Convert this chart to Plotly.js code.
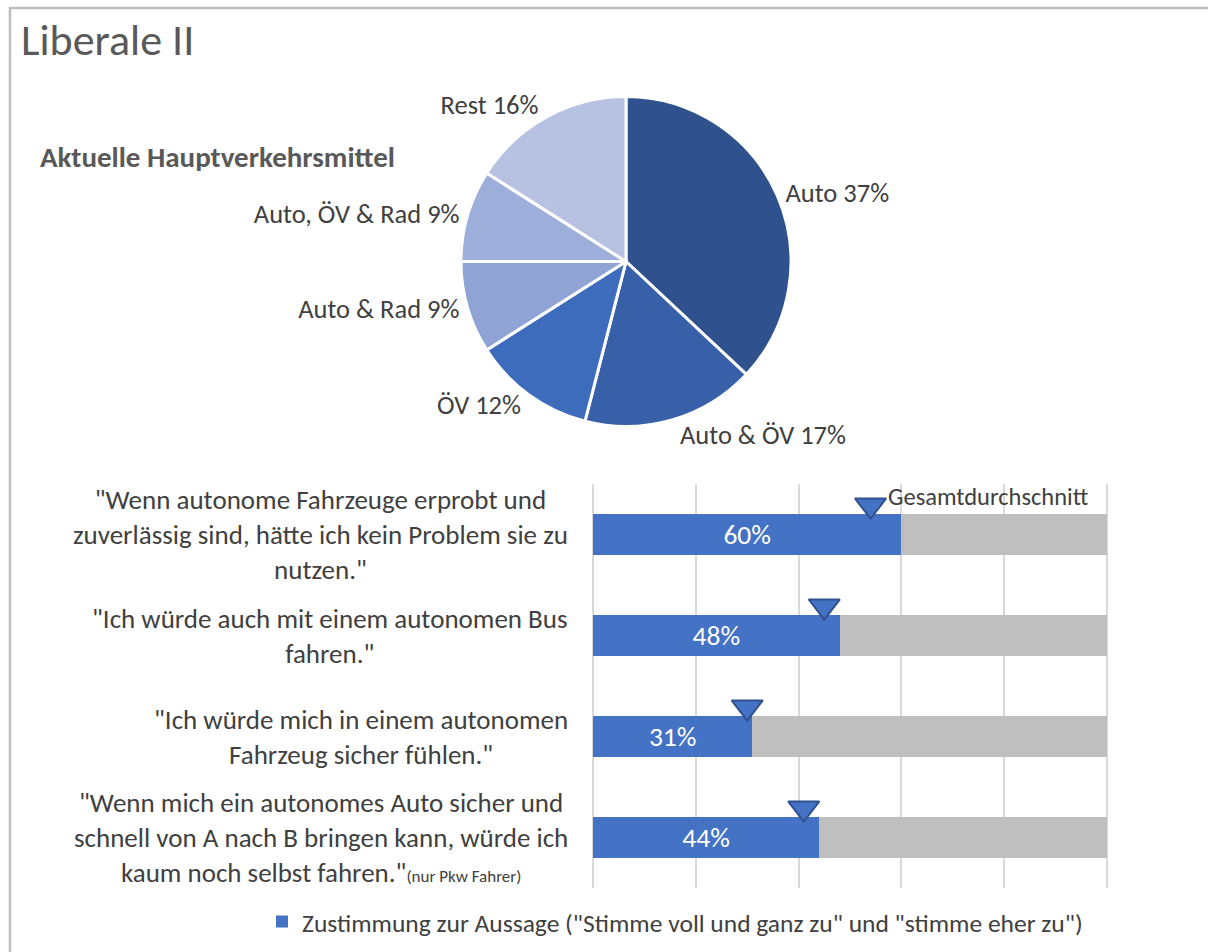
<!DOCTYPE html>
<html>
<head>
<meta charset="utf-8">
<script src="https://cdn.plot.ly/plotly-3.0.1.min.js"></script>
<style>html,body{margin:0;padding:0;background:#fff;}#chart{width:1208px;height:952px;}</style>
</head>
<body>
<div id="chart"></div>
<script>
// ---- data ----
const pieLabels = ["Auto", "Auto & ÖV", "ÖV", "Auto & Rad", "Auto, ÖV & Rad", "Rest"];
const pieValues = [37, 17, 12, 9, 9, 16];
const pieColors = ["#2F528F", "#3860A8", "#3D6CBD", "#8FA3D4", "#9DAEDB", "#B7C2E3"];

const statements = [
  '"Wenn autonome Fahrzeuge erprobt und<br>zuverlässig sind, hätte ich kein Problem sie zu<br>nutzen."',
  '"Ich würde auch mit einem autonomen Bus<br>fahren."',
  '"Ich würde mich in einem autonomen<br>Fahrzeug sicher fühlen."',
  '"Wenn mich ein autonomes Auto sicher und<br>schnell von A nach B bringen kann, würde ich<br>kaum noch selbst fahren."<span style="font-size:17px">(nur Pkw Fahrer)</span>'
];
const agreeValues = [60, 48, 31, 44];
const averageValues = [54, 45, 30, 41];
const averageLabel = "Gesamtdurchschnitt";
const legendName = 'Zustimmung zur Aussage ("Stimme voll und ganz zu" und "stimme eher zu")';
const chartTitle = "Liberale II";
const pieTitle = "Aktuelle Hauptverkehrsmittel";

// ---- geometry helpers ----
const W = 1208, H = 952;
const px = x => x / W;
const py = y => 1 - y / H;
const FONT = "Carlito, Calibri, Lato, 'Open Sans', sans-serif";
const TXT = "#404040";

const idx = statements.map((_, i) => i);
const markerOffset = 0.29;

const traces = [
  {
    type: "pie",
    labels: pieLabels,
    values: pieValues,
    sort: false,
    direction: "clockwise",
    rotation: 0,
    domain: {x: [px(461), px(791)], y: [py(427), py(96)]},
    marker: {colors: pieColors, line: {color: "#ffffff", width: 3}},
    textposition: "outside",
    texttemplate: "%{label} %{value}%",
    textfont: {family: FONT, size: 26.5, color: TXT},
    showlegend: false,
    hoverinfo: "none"
  },
  {
    type: "bar",
    orientation: "h",
    x: agreeValues,
    y: idx,
    width: 0.4,
    name: legendName,
    marker: {color: "#4472C4"},
    text: agreeValues.map(v => v + "%"),
    textposition: "inside",
    insidetextanchor: "middle",
    textfont: {family: FONT, size: 28, color: "#ffffff"},
    hoverinfo: "none",
    showlegend: true
  },
  {
    type: "bar",
    orientation: "h",
    x: agreeValues.map(v => 100 - v),
    y: idx,
    width: 0.4,
    marker: {color: "#BFBFBF"},
    textposition: "none",
    hoverinfo: "none",
    showlegend: false
  },
  {
    type: "scatter",
    mode: "markers",
    x: averageValues,
    y: idx.map(i => i - markerOffset),
    marker: {symbol: "triangle-down", size: 27, color: "#4472C4", line: {color: "#2F528F", width: 2}},
    cliponaxis: false,
    hoverinfo: "none",
    showlegend: false
  }
];

const annotations = statements.map((s, i) => ({
  text: s,
  xref: "paper", yref: "y",
  x: px(570), y: i,
  xanchor: "right", yanchor: "middle",
  align: "center",
  showarrow: false,
  font: {family: FONT, size: 27, color: TXT}
}));
annotations.push({
  text: averageLabel,
  xref: "x", yref: "y",
  x: averageValues[0], y: 0 - markerOffset,
  xanchor: "left", yanchor: "middle",
  xshift: 15, yshift: 8,
  showarrow: false,
  font: {family: FONT, size: 24.5, color: TXT}
});
annotations.push({
  text: "<b>" + pieTitle + "</b>",
  xref: "paper", yref: "paper",
  x: px(38), y: py(157),
  xanchor: "left", yanchor: "middle",
  showarrow: false,
  font: {family: FONT, size: 29, color: "#595959"}
});

const pad = 0.4;
const unit = (1107 - 593) / 100;

const layout = {
  width: W, height: H,
  margin: {l: 0, r: 0, t: 0, b: 0},
  paper_bgcolor: "#ffffff",
  plot_bgcolor: "#ffffff",
  font: {family: FONT, color: TXT},
  title: {
    text: chartTitle,
    x: px(21), xanchor: "left",
    y: py(40), yanchor: "middle",
    font: {family: FONT, size: 44, color: "#595959"}
  },
  barmode: "stack",
  xaxis: {
    domain: [px(593 - pad * unit), px(1107 + pad * unit)],
    range: [-pad, 100 + pad],
    tickvals: [0, 20, 40, 60, 80, 100],
    showticklabels: false,
    showgrid: true,
    gridcolor: "#D9D9D9",
    gridwidth: 2,
    zeroline: false,
    showline: false,
    fixedrange: true
  },
  yaxis: {
    domain: [py(888), py(484)],
    range: [3.5, -0.5],
    showticklabels: false,
    showgrid: false,
    zeroline: false,
    showline: false,
    automargin: false,
    fixedrange: true
  },
  showlegend: true,
  legend: {
    orientation: "h",
    x: px(262), xanchor: "left",
    y: py(922), yanchor: "middle",
    font: {family: FONT, size: 25.5, color: TXT},
    bgcolor: "rgba(0,0,0,0)"
  },
  annotations: annotations,
  shapes: [{
    type: "rect", xref: "paper", yref: "paper",
    x0: px(10), x1: 1.02, y0: py(8), y1: -0.02,
    line: {color: "#BFBFBF", width: 2.5},
    fillcolor: "rgba(0,0,0,0)"
  }]
};

Plotly.newPlot("chart", traces, layout, {displayModeBar: false, staticPlot: true});
</script>
</body>
</html>
